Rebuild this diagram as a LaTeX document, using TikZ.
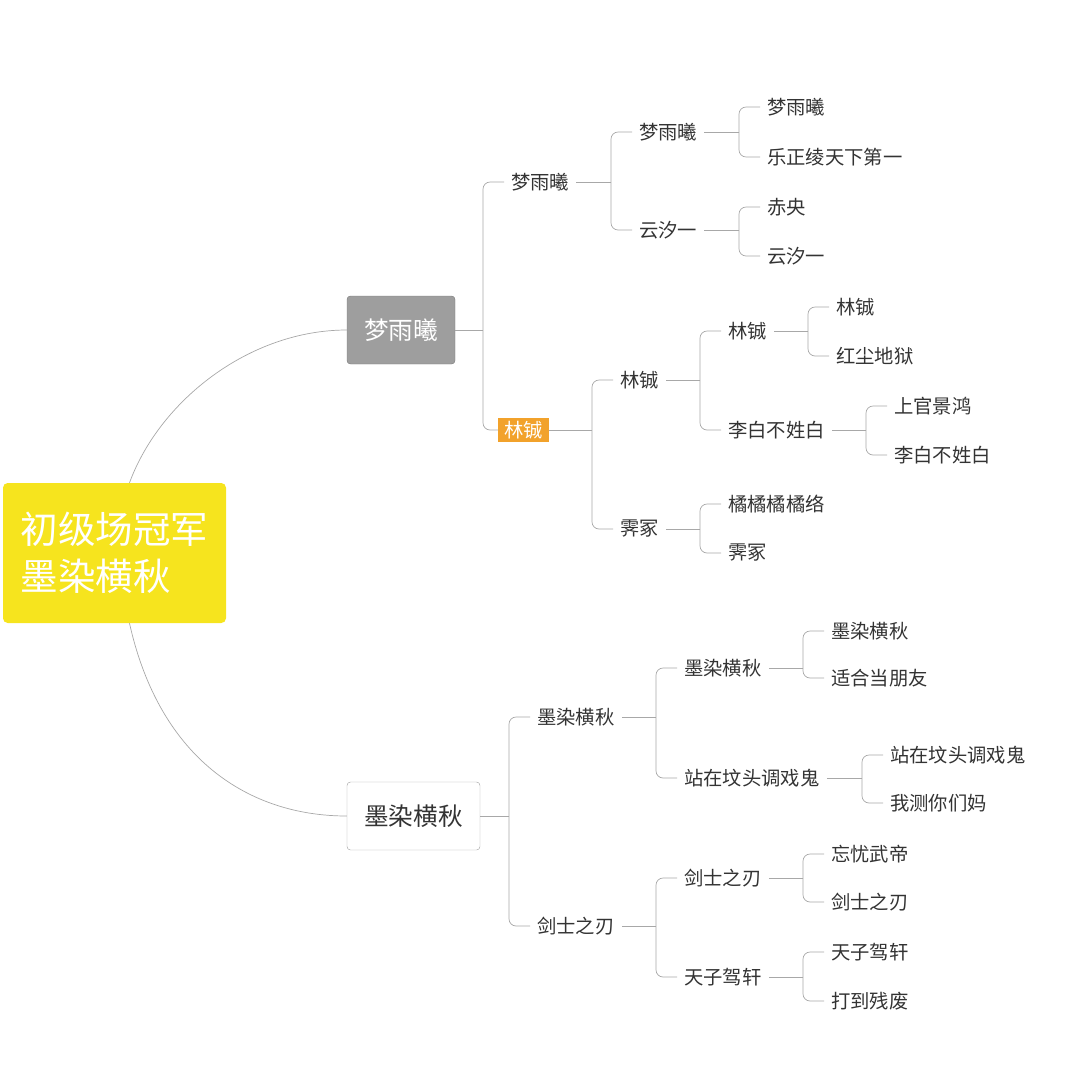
\documentclass[tikz,border=0pt]{standalone}
\usepackage{fontspec}
\newfontfamily\cjk{Noto Sans CJK SC}
\usetikzlibrary{positioning}
\definecolor{rootyellow}{HTML}{F6E41E}
\definecolor{topgray}{HTML}{9E9E9E}
\definecolor{linegray}{HTML}{A8A8A8}
\definecolor{txtgray}{HTML}{333333}
\definecolor{tagorange}{HTML}{F2A22B}
\tikzset{
  leaf/.style={anchor=west, inner xsep=7*0.03cm, inner ysep=2pt, text=txtgray, font=\cjk\fontsize{16.5}{19}\selectfont},
  topic/.style={rounded corners=3pt, minimum height=68*0.03cm, font=\cjk\fontsize{21}{25}\selectfont},
  link/.style={draw=linegray, line width=0.6pt},
  fork/.style={link, rounded corners=6pt}
}
% a bracket from a parent to its children, vertical bar at x = #2
\newcommand{\branch}[3]{%
  \path (#2,0) coordinate (barx);
  \draw[link] (#1.east) -- (#1.east -| barx) coordinate (#1-j);
  \foreach \c in {#3} \draw[fork] (#1-j) |- (\c.west);
}
\begin{document}
\begin{tikzpicture}[x=0.03cm, y=-0.03cm]
\useasboundingbox (0,0) rectangle (1077,1069);

% root and main topics
\node[fill=rootyellow, rounded corners=4pt, minimum width=223*0.03cm, minimum height=140*0.03cm,
      text=white, align=left, font=\cjk\fontsize{32}{40}\selectfont] (root) at (114.5,553) {初级场冠军\\墨染横秋};
\node[topic, minimum width=108*0.03cm, fill=topgray, draw=topgray!80!black, text=white] (mengA) at (401,330) {梦雨曦};
\node[topic, minimum width=133*0.03cm, fill=white, draw=linegray, text=txtgray] (moB) at (413.5,816) {墨染横秋};
\draw[link] (root.north) ++(15,0) .. controls (160,400) and (250,330) .. (mengA.west);
\draw[link] (root.south) ++(15,0) .. controls (160,760) and (250,816) .. (moB.west);

% upper branch
\node[leaf] (a1) at (504,182) {梦雨曦};
\node[fill=tagorange, text=white, inner xsep=5pt, inner ysep=3pt, anchor=west,
      font=\cjk\fontsize{16.5}{19}\selectfont] (a2) at (498,430) {林铖};
\branch{mengA}{483}{a1,a2}
\node[leaf] (a11) at (632,132) {梦雨曦};
\node[leaf] (a12) at (632,230) {云汐一};
\branch{a1}{611}{a11,a12}
\node[leaf] (a111) at (760,107) {梦雨曦};
\node[leaf] (a112) at (760,157) {乐正绫天下第一};
\branch{a11}{739}{a111,a112}
\node[leaf] (a121) at (760,207) {赤央};
\node[leaf] (a122) at (760,256) {云汐一};
\branch{a12}{739}{a121,a122}
\node[leaf] (a21) at (613,380) {林铖};
\node[leaf] (a22) at (613,529) {霁冢};
\branch{a2}{592}{a21,a22}
\node[leaf] (a211) at (721,331) {林铖};
\node[leaf] (a212) at (721,430) {李白不姓白};
\branch{a21}{700}{a211,a212}
\node[leaf] (a2111) at (829,307) {林铖};
\node[leaf] (a2112) at (829,356) {红尘地狱};
\branch{a211}{808}{a2111,a2112}
\node[leaf] (a2121) at (887,406) {上官景鸿};
\node[leaf] (a2122) at (887,455) {李白不姓白};
\branch{a212}{866}{a2121,a2122}
\node[leaf] (a221) at (721,504) {橘橘橘橘络};
\node[leaf] (a222) at (721,553) {霁冢};
\branch{a22}{700}{a221,a222}

% lower branch
\node[leaf] (b1) at (530,717) {墨染横秋};
\node[leaf] (b2) at (530,926) {剑士之刃};
\branch{moB}{509}{b1,b2}
\node[leaf] (b11) at (677,668) {墨染横秋};
\node[leaf] (b12) at (677,778) {站在坟头调戏鬼};
\branch{b1}{656}{b11,b12}
\node[leaf] (b111) at (824,631) {墨染横秋};
\node[leaf] (b112) at (824,678) {适合当朋友};
\branch{b11}{803}{b111,b112}
\node[leaf] (b121) at (883,755) {站在坟头调戏鬼};
\node[leaf] (b122) at (883,803) {我测你们妈};
\branch{b12}{862}{b121,b122}
\node[leaf] (b21) at (677,878) {剑士之刃};
\node[leaf] (b22) at (677,977) {天子驾轩};
\branch{b2}{656}{b21,b22}
\node[leaf] (b211) at (824,854) {忘忧武帝};
\node[leaf] (b212) at (824,902) {剑士之刃};
\branch{b21}{803}{b211,b212}
\node[leaf] (b221) at (824,952) {天子驾轩};
\node[leaf] (b222) at (824,1001) {打到残废};
\branch{b22}{803}{b221,b222}
\end{tikzpicture}
\end{document}
